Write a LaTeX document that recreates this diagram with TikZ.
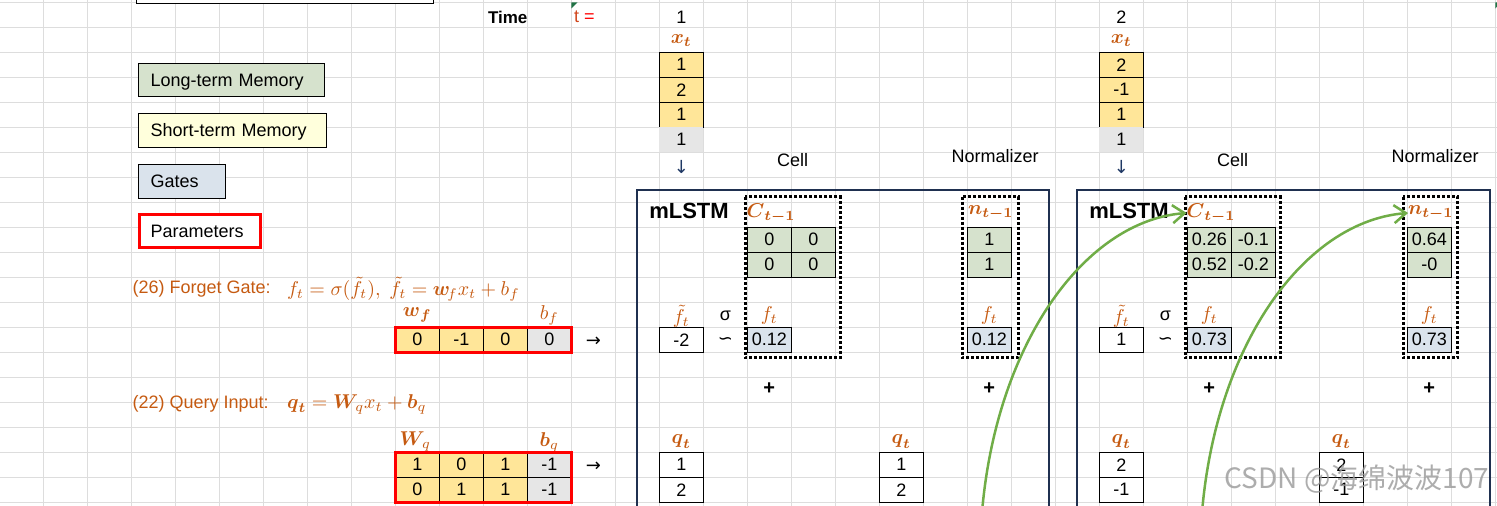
\documentclass[tikz,border=0pt]{standalone}
\usepackage[no-math]{fontspec}
\setmainfont{Liberation Sans}
\newfontfamily\dejavu{DejaVu Sans}
\newfontfamily\cjkfont{Noto Sans CJK SC}
\usepackage{amsmath}
\usetikzlibrary{arrows.meta}
\definecolor{gridc}{HTML}{DDDDDD}
\definecolor{ora}{HTML}{C55A11}
\definecolor{ylw}{HTML}{FFE699}
\definecolor{gry}{HTML}{E6E6E6}
\definecolor{grn}{HTML}{D6E2CD}
\definecolor{blu}{HTML}{DAE3EC}
\definecolor{lyel}{HTML}{FFFFDC}
\definecolor{navy}{HTML}{1F3050}
\definecolor{arcg}{HTML}{70AD47}
\definecolor{xlgreen}{HTML}{217346}
\definecolor{darrow}{HTML}{1F3864}
\definecolor{tcol}{HTML}{D0451B}
\newcommand{\cx}[1]{131.3+44*(#1)}
\newcommand{\ry}[1]{2.3+25*(#1)}
\begin{document}
\begin{tikzpicture}[x=0.5pt,y=-0.5pt,
  every node/.style={font=\fontsize{9}{10}\selectfont, inner sep=0pt, outer sep=0pt},
  xcell/.style={draw=black, line width=0.5pt, minimum width=22pt, minimum height=12.5pt, anchor=north west},
  pcell/.style={minimum width=22pt, minimum height=12.5pt, anchor=north west},
  lab/.style={text=ora},
  legend/.style={draw=black, line width=0.5pt, anchor=north west, inner xsep=6.2pt, inner ysep=0pt, text height=6.4pt, text depth=0pt},
  dotbox/.style={line width=1.5pt, dash pattern=on 1.5pt off 1pt},
  arcstyle/.style={arcg, line width=1.25pt, -{Straight Barb[length=6pt,width=9pt]}},
  wide/.style={font=\dejavu\fontsize{9}{10}\selectfont}
]
\useasboundingbox (0,0) rectangle (1497,506);
\clip (0,0) rectangle (1497,506);
% grid
\foreach \i in {0,...,33} \draw[gridc, line width=0.5pt] ({43.3+44*\i},0) -- ({43.3+44*\i},506);
\foreach \j in {0,...,20} \draw[gridc, line width=0.5pt] (0,{2.3+25*\j}) -- (1497,{2.3+25*\j});
% top box
\draw[fill=white, line width=0.5pt] (136.3,-5) rectangle (433.3,3.3);
% legend
\node[legend, fill=grn, minimum height=16.7pt, text width=80.6pt] (ltm) at (138.3,63.3) {Long-term Memory};
\node[legend, fill=lyel, minimum height=17pt, text width=81.8pt] (stm) at (138.3,113.3) {Short-term Memory};
\node[legend, fill=blu, minimum height=17.2pt, text width=31pt] (gates) at (138.3,164.3) {Gates};
\node[draw=red, fill=white, line width=1.5pt, anchor=north west, inner xsep=5.6pt, minimum height=16.5pt, text width=49.45pt, text height=6.4pt, text depth=0pt] (params) at (139.5,214.2) {Parameters};
% time row
\node[anchor=west, font=\bfseries\fontsize{8.5}{10}\selectfont] (time) at (488,17) {Time};
\node[anchor=west] (teq) at (574,17) {\textcolor{tcol}{t} \textcolor{red}{=}};
\fill[xlgreen] (571.3,2.3) -- (577.5,2.3) -- (571.3,8.5) -- cycle;
\fill[xlgreen] (1495.3,2.3) -- (1501,2.3) -- (1495.3,8.5) -- cycle;

% ---------- parameters: forget gate
\node[anchor=west, text=ora] (eq26) at (132.7,289) {(26) Forget Gate:};
\node[anchor=west, text=ora, font=\fontsize{10}{11}\selectfont] (eq26m) at (287,289) {$f_t=\sigma(\tilde f_t),\ \tilde f_t=\boldsymbol{w}_{\!f}x_t+b_f$};
\node[lab, font=\fontsize{10}{11}\selectfont] (wflab) at ({\cx{6}+22},315) {$\boldsymbol{w}_{\boldsymbol f}$};
\node[lab, font=\fontsize{10}{11}\selectfont] (bflab) at ({\cx{9}+22},315) {$b_f$};
\node[xcell, fill=ylw] (wf1) at ({\cx{6}},{\ry{13}}) {0};
\node[xcell, fill=ylw] (wf2) at ({\cx{7}},{\ry{13}}) {-1};
\node[xcell, fill=ylw] (wf3) at ({\cx{8}},{\ry{13}}) {0};
\node[xcell, fill=gry] (bf1) at ({\cx{9}},{\ry{13}}) {0};
\draw[red, line width=1.25pt] ({\cx{6}},{\ry{13}}) rectangle ({\cx{10}},{\ry{14}});
\node[wide] (arrf) at ({\cx{10}+22},342) {→};
% ---------- parameters: query
\node[anchor=west, text=ora] (eq22) at (132.7,404) {(22) Query Input:};
\node[anchor=west, text=ora, font=\fontsize{10}{11}\selectfont] (eq22m) at (287,404) {$\boldsymbol{q}_{\boldsymbol t}=\boldsymbol{W}_{\!q}x_t+\boldsymbol{b}_q$};
\node[lab, font=\fontsize{10}{11}\selectfont] (wqlab) at ({\cx{6}+20},442) {$\boldsymbol{W}_{\!q}$};
\node[lab, font=\fontsize{10}{11}\selectfont] (bqlab) at ({\cx{9}+22},442) {$\boldsymbol{b}_q$};
\node[xcell, fill=ylw] (wq11) at ({\cx{6}},{\ry{18}}) {1};
\node[xcell, fill=ylw] (wq12) at ({\cx{7}},{\ry{18}}) {0};
\node[xcell, fill=ylw] (wq13) at ({\cx{8}},{\ry{18}}) {1};
\node[xcell, fill=gry] (bq1) at ({\cx{9}},{\ry{18}}) {-1};
\node[xcell, fill=ylw] (wq21) at ({\cx{6}},{\ry{19}}) {0};
\node[xcell, fill=ylw] (wq22) at ({\cx{7}},{\ry{19}}) {1};
\node[xcell, fill=ylw] (wq23) at ({\cx{8}},{\ry{19}}) {1};
\node[xcell, fill=gry] (bq2) at ({\cx{9}},{\ry{19}}) {-1};
\draw[red, line width=1.25pt] ({\cx{6}},{\ry{18}}) rectangle ({\cx{10}},{\ry{20}});
\node[wide] (arrq) at ({\cx{10}+22},467) {→};

% ================= block t=1
\node (b1time) at ({\cx{12}+22},17) {1};
\node[lab, font=\fontsize{10}{11}\selectfont] (b1xlab) at ({\cx{12}+22},41) {$\boldsymbol{x}_{\boldsymbol{t}}$};
\node[xcell, fill=ylw] (b1x1) at ({\cx{12}},{\ry{2}}) {1};
\node[xcell, fill=ylw] (b1x2) at ({\cx{12}},{\ry{3}}) {2};
\node[xcell, fill=ylw] (b1x3) at ({\cx{12}},{\ry{4}}) {1};
\node[pcell, fill=gry] (b1x4) at ({\cx{12}},{\ry{5}}) {1};
\node[wide, text=darrow] (b1down) at ({\cx{12}+22},167) {↓};
\node (b1celltxt) at (792.7,160) {Cell};
\node (b1normtxt) at (995,156) {Normalizer};
\draw[navy, line width=1.1pt] (637.3,540) -- (637.3,190) -- (1049.3,190) -- (1049.3,540);
\node[anchor=west, font=\bfseries\fontsize{11}{12}\selectfont] (b1title) at (649.3,211) {mLSTM};
\draw[dotbox] (745.3,196.7) rectangle (840,358);
\draw[dotbox] (962.7,196.7) rectangle (1018,358);
\node[lab, font=\fontsize{10}{11}\selectfont] (b1clab) at (771,213) {$\boldsymbol{C}_{\boldsymbol{t-1}}$};
\node[lab, font=\fontsize{10}{11}\selectfont] (b1nlab) at (990.7,213) {$\boldsymbol{n}_{\boldsymbol{t-1}}$};
\node[xcell, fill=grn] (b1c11) at ({\cx{14}},{\ry{9}}) {0};
\node[xcell, fill=grn] (b1c12) at ({\cx{15}},{\ry{9}}) {0};
\node[xcell, fill=grn] (b1c21) at ({\cx{14}},{\ry{10}}) {0};
\node[xcell, fill=grn] (b1c22) at ({\cx{15}},{\ry{10}}) {0};
\node[xcell, fill=grn] (b1n1) at ({\cx{19}},{\ry{9}}) {1};
\node[xcell, fill=grn] (b1n2) at ({\cx{19}},{\ry{10}}) {1};
\node[lab, font=\fontsize{10}{11}\selectfont] (b1ftlab) at ({\cx{12}+22},316) {$\tilde f_t$};
\node (b1sig) at ({\cx{13}+22},316) {σ};
\node[wide] (b1wave) at ({\cx{13}+22},341) {∽};
\node[lab, font=\fontsize{10}{11}\selectfont] (b1flab) at ({\cx{14}+22},316) {$f_t$};
\node[lab, font=\fontsize{10}{11}\selectfont] (b1flab2) at ({\cx{19}+22},316) {$f_t$};
\node[xcell, fill=white] (b1ftv) at ({\cx{12}},{\ry{13}}) {-2};
\node[xcell, fill=blu] (b1fv) at ({\cx{14}},{\ry{13}}) {0.12};
\node[xcell, fill=blu] (b1fv2) at ({\cx{19}},{\ry{13}}) {0.12};
\node[font=\bfseries\fontsize{10}{11}\selectfont] (b1plus) at ({\cx{14}+22},389) {+};
\node[font=\bfseries\fontsize{10}{11}\selectfont] (b1plus2) at ({\cx{19}+22},389) {+};
\node[lab, font=\fontsize{10}{11}\selectfont] (b1qlab) at ({\cx{12}+22},442) {$\boldsymbol{q}_{\boldsymbol t}$};
\node[lab, font=\fontsize{10}{11}\selectfont] (b1qlab2) at ({\cx{17}+22},442) {$\boldsymbol{q}_{\boldsymbol t}$};
\node[xcell, fill=white] (b1q1) at ({\cx{12}},{\ry{18}}) {1};
\node[xcell, fill=white] (b1q2) at ({\cx{12}},{\ry{19}}) {2};
\node[xcell, fill=white] (b1qq1) at ({\cx{17}},{\ry{18}}) {1};
\node[xcell, fill=white] (b1qq2) at ({\cx{17}},{\ry{19}}) {2};

% ================= block t=2
\node (b2time) at ({\cx{22}+22},17) {2};
\node[lab, font=\fontsize{10}{11}\selectfont] (b2xlab) at ({\cx{22}+22},41) {$\boldsymbol{x}_{\boldsymbol{t}}$};
\node[xcell, fill=ylw] (b2x1) at ({\cx{22}},{\ry{2}}) {2};
\node[xcell, fill=ylw] (b2x2) at ({\cx{22}},{\ry{3}}) {-1};
\node[xcell, fill=ylw] (b2x3) at ({\cx{22}},{\ry{4}}) {1};
\node[pcell, fill=gry] (b2x4) at ({\cx{22}},{\ry{5}}) {1};
\node[wide, text=darrow] (b2down) at ({\cx{22}+22},167) {↓};
\node (b2celltxt) at (1232.7,160) {Cell};
\node (b2normtxt) at (1435,156) {Normalizer};
\draw[navy, line width=1.1pt] (1076.7,540) -- (1076.7,190) -- (1490,190) -- (1490,540);
\node[anchor=west, font=\bfseries\fontsize{11}{12}\selectfont] (b2title) at (1089.3,211) {mLSTM};
\draw[dotbox] (1185.3,196.7) rectangle (1280,358);
\draw[dotbox] (1403.3,196.7) rectangle (1457.7,358);
\node[lab, font=\fontsize{10}{11}\selectfont] (b2clab) at (1211,213) {$\boldsymbol{C}_{\boldsymbol{t-1}}$};
\node[lab, font=\fontsize{10}{11}\selectfont] (b2nlab) at (1430.7,213) {$\boldsymbol{n}_{\boldsymbol{t-1}}$};
\node[xcell, fill=grn] (b2c11) at ({\cx{24}},{\ry{9}}) {0.26};
\node[xcell, fill=grn] (b2c12) at ({\cx{25}},{\ry{9}}) {-0.1};
\node[xcell, fill=grn] (b2c21) at ({\cx{24}},{\ry{10}}) {0.52};
\node[xcell, fill=grn] (b2c22) at ({\cx{25}},{\ry{10}}) {-0.2};
\node[xcell, fill=grn] (b2n1) at ({\cx{29}},{\ry{9}}) {0.64};
\node[xcell, fill=grn] (b2n2) at ({\cx{29}},{\ry{10}}) {-0};
\node[lab, font=\fontsize{10}{11}\selectfont] (b2ftlab) at ({\cx{22}+22},316) {$\tilde f_t$};
\node (b2sig) at ({\cx{23}+22},316) {σ};
\node[wide] (b2wave) at ({\cx{23}+22},341) {∽};
\node[lab, font=\fontsize{10}{11}\selectfont] (b2flab) at ({\cx{24}+22},316) {$f_t$};
\node[lab, font=\fontsize{10}{11}\selectfont] (b2flab2) at ({\cx{29}+22},316) {$f_t$};
\node[xcell, fill=white] (b2ftv) at ({\cx{22}},{\ry{13}}) {1};
\node[xcell, fill=blu] (b2fv) at ({\cx{24}},{\ry{13}}) {0.73};
\node[xcell, fill=blu] (b2fv2) at ({\cx{29}},{\ry{13}}) {0.73};
\node[font=\bfseries\fontsize{10}{11}\selectfont] (b2plus) at ({\cx{24}+22},389) {+};
\node[font=\bfseries\fontsize{10}{11}\selectfont] (b2plus2) at ({\cx{29}+22},389) {+};
\node[lab, font=\fontsize{10}{11}\selectfont] (b2qlab) at ({\cx{22}+22},442) {$\boldsymbol{q}_{\boldsymbol t}$};
\node[lab, font=\fontsize{10}{11}\selectfont] (b2qlab2) at ({\cx{27}+22},442) {$\boldsymbol{q}_{\boldsymbol t}$};
\node[xcell, fill=white] (b2q1) at ({\cx{22}},{\ry{18}}) {2};
\node[xcell, fill=white] (b2q2) at ({\cx{22}},{\ry{19}}) {-1};
\node[xcell, fill=white] (b2qq1) at ({\cx{27}},{\ry{18}}) {2};
\node[xcell, fill=white] (b2qq2) at ({\cx{27}},{\ry{19}}) {-1};

% ================= green arcs (carry state to t=2)
\coordinate (a1s) at (980,560);
\coordinate (a2s) at (1200,560);
\draw[arcstyle] (a1s) .. controls (980,368) and (1075,222) .. (b2clab.west);
\draw[arcstyle] (a2s) .. controls (1200,368) and (1295,222) .. (b2nlab.west);

% watermark
\node[font=\cjkfont\fontsize{14}{16}\selectfont, text=black!40, opacity=0.8] (wm) at (1357,479) {CSDN @海绵波波107};
\end{tikzpicture}
\end{document}
